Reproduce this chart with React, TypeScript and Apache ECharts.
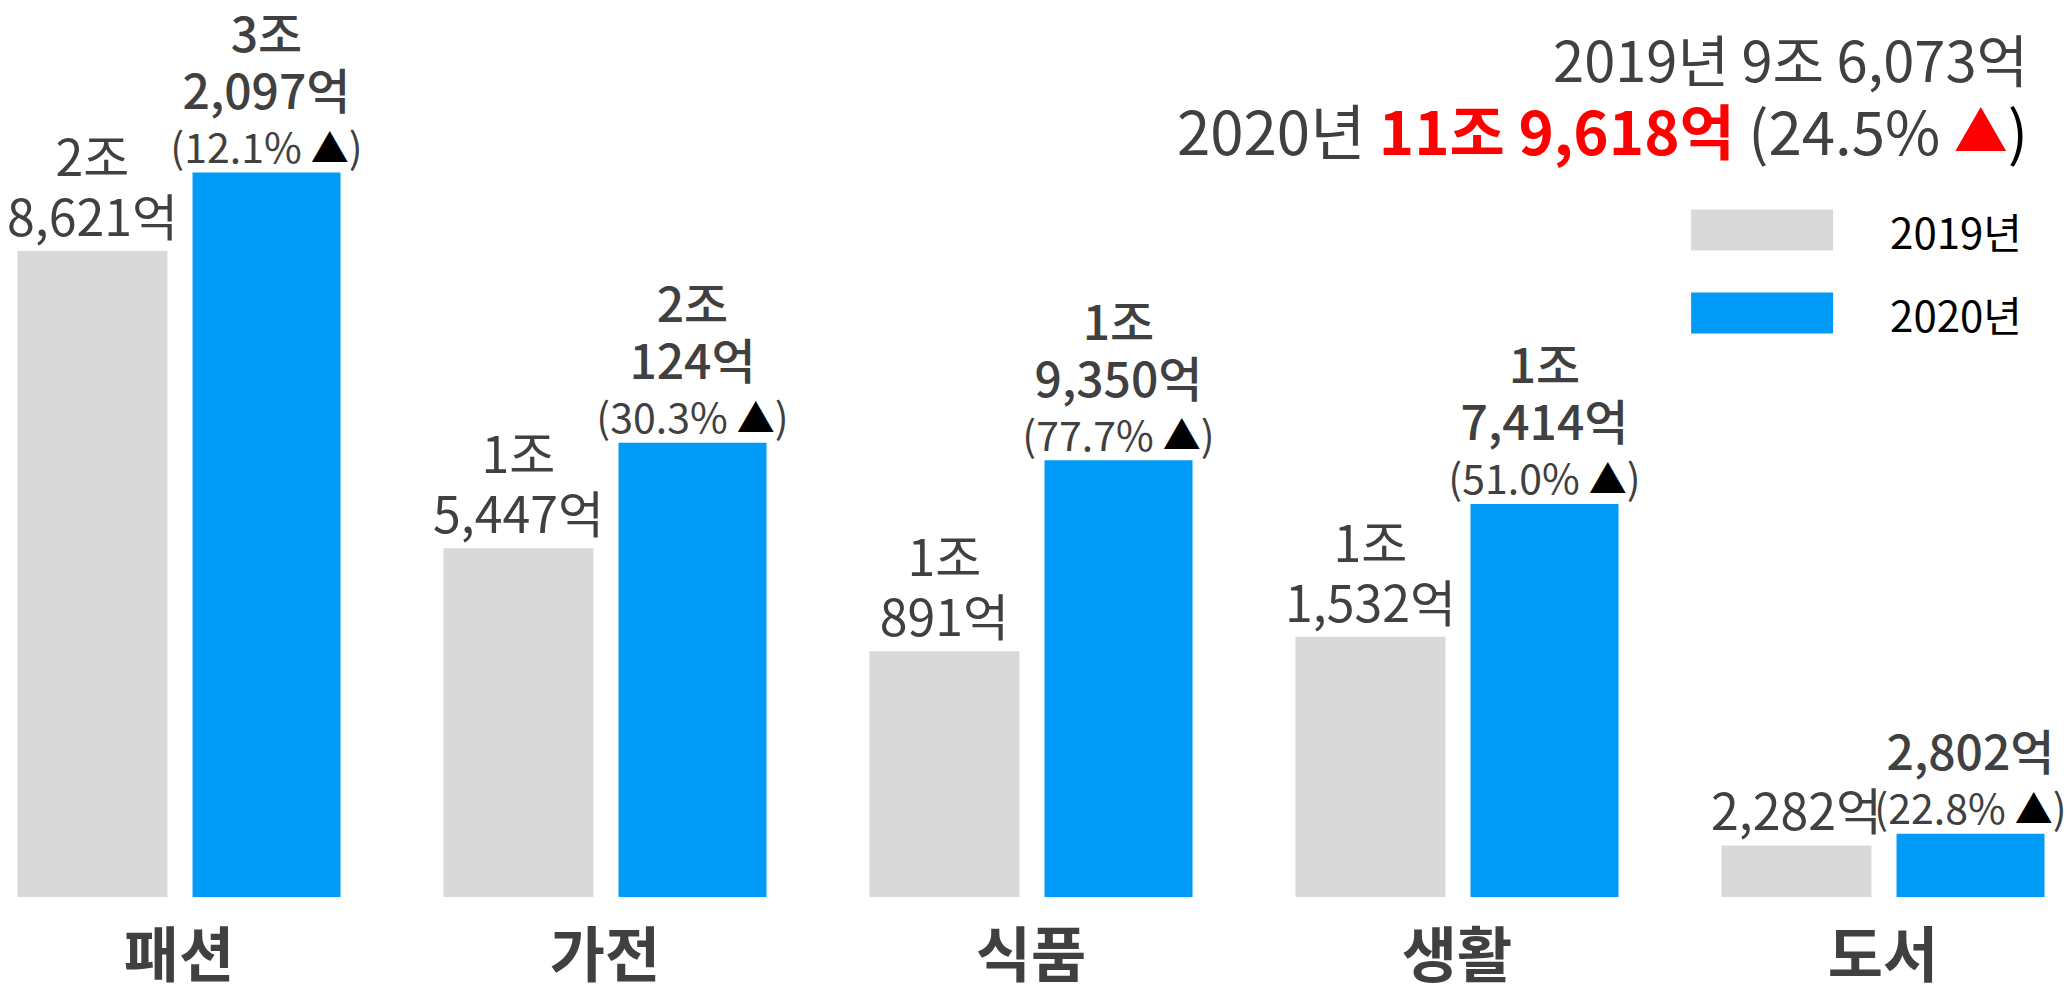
import React, { useEffect, useRef } from 'react';
import * as echarts from 'echarts';

const categories = ['패션', '가전', '식품', '생활', '도서'];
const sales2019 = [28621, 15447, 10891, 11532, 2282];
const sales2020 = [32097, 20124, 19350, 17414, 2802];
const growth = ['12.1', '30.3', '77.7', '51.0', '22.8'];
const seriesNames = ['2019년', '2020년'];
const totalLine1 = '2019년 9조 6,073억';
const totalYear2020 = '2020년 ';
const total2020 = '11조 9,618억';
const totalGrowth = '24.5%';

const FF = '"Noto Sans CJK KR", "Noto Sans", sans-serif';
const DARK = '#404040';
const GRAY = '#d9d9d9';
const BLUE = '#009bf7';

// container is shifted left so the first category band starts off-screen
const SHIFT = 34;
const CW = 2130;

function fmt(v: number): string[] {
  const jo = Math.floor(v / 10000);
  const eok = v % 10000;
  const e = eok.toLocaleString('en-US') + '억';
  return jo > 0 ? [jo + '조', e] : [e];
}

export default function App() {
  const ref = useRef<HTMLDivElement>(null);
  useEffect(() => {
    if (!ref.current) return;
    const chart = echarts.init(ref.current, undefined, { renderer: 'svg' });
    chart.setOption({
      animation: false,
      backgroundColor: '#ffffff',
      textStyle: { fontFamily: FF },
      grid: { left: 0, right: 0, top: 107, bottom: 90, containLabel: false },
      legend: {
        orient: 'vertical',
        right: 69,
        top: 204,
        itemWidth: 142,
        itemHeight: 41,
        itemGap: 41,
        icon: 'rect',
        align: 'left',
        data: seriesNames,
        textStyle: {
          fontFamily: FF,
          fontSize: 42,
          color: '#000000',
          lineHeight: 41,
          padding: [0, 0, 0, 52],
        },
      },
      xAxis: {
        type: 'category',
        data: categories,
        axisLine: { show: false },
        axisTick: { show: false },
        axisLabel: {
          fontFamily: FF,
          fontSize: 60,
          fontWeight: 'bold',
          color: DARK,
          margin: 23,
          lineHeight: 60,
        },
      },
      yAxis: { type: 'value', min: 0, max: 35000, show: false, splitLine: { show: false } },
      series: [
        {
          name: seriesNames[0],
          type: 'bar',
          data: sales2019,
          barWidth: 150,
          barGap: '16.7%',
          itemStyle: { color: GRAY },
          label: {
            show: true,
            position: 'top',
            distance: 7,
            formatter: (p: any) => fmt(p.value).map((s) => `{g|${s}}`).join('\n'),
            rich: {
              g: { fontFamily: FF, fontSize: 50, lineHeight: 60, color: DARK },
            },
          },
        },
        {
          name: seriesNames[1],
          type: 'bar',
          data: sales2020,
          barWidth: 148,
          barGap: '16.7%',
          itemStyle: { color: BLUE },
          label: {
            show: true,
            position: 'top',
            distance: -1,
            formatter: (p: any) => {
              const lines = fmt(p.value).map((s) => `{b|${s}}`);
              lines.push(`{p|(${growth[p.dataIndex]}% }{t|▲}{p|)}`);
              return lines.join('\n');
            },
            rich: {
              b: { fontFamily: FF, fontSize: 48, fontWeight: 500, lineHeight: 57, color: DARK },
              p: { fontFamily: FF, fontSize: 41, lineHeight: 57, color: DARK },
              t: { fontFamily: FF, fontSize: 38, lineHeight: 57, color: '#000000' },
            },
          },
        },
      ],
      graphic: [
        {
          type: 'text',
          x: 2028 + SHIFT,
          y: 57,
          style: {
            text: `{a|${totalLine1}}`,
            align: 'right',
            verticalAlign: 'middle',
            fill: DARK,
            rich: { a: { fontFamily: FF, fontSize: 56, fill: DARK } },
          },
        },
        {
          type: 'text',
          x: 2028 + SHIFT,
          y: 128,
          style: {
            text: `{n|${totalYear2020}}{r|${total2020}}{n| (${totalGrowth} }{rt|▲}{k|)}`,
            align: 'right',
            verticalAlign: 'middle',
            fill: DARK,
            rich: {
              n: { fontFamily: FF, fontSize: 60, fill: DARK },
              r: { fontFamily: FF, fontSize: 60, fontWeight: 'bold', fill: '#ff0000' },
              rt: { fontFamily: FF, fontSize: 54, fill: '#ff0000' },
              k: { fontFamily: FF, fontSize: 60, fill: '#000000' },
            },
          },
        },
      ],
    });
    return () => chart.dispose();
  }, []);
  return (
    <div
      ref={ref}
      style={{ position: 'fixed', left: -SHIFT, top: 0, width: CW, height: 987, background: '#fff' }}
    />
  );
}
